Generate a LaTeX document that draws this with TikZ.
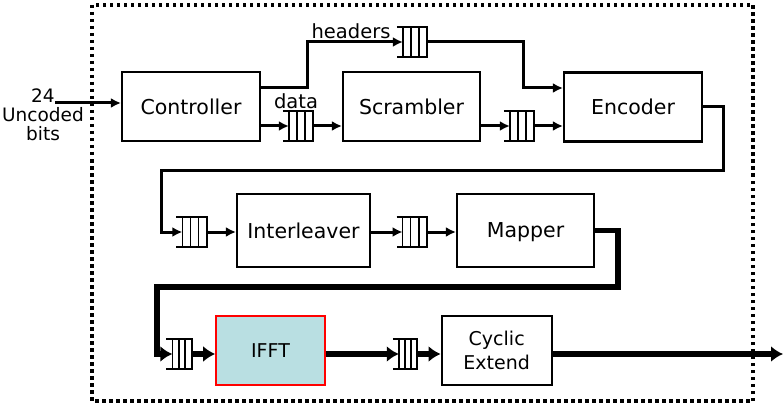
\documentclass[tikz,border=0pt]{standalone}
\usepackage{fontspec}
\setmainfont{DejaVu Sans}
\usepackage{xcolor}
\usepackage{tikz}
\usetikzlibrary{arrows.meta, calc}
\definecolor{ifftfill}{RGB}{185,223,226}

\begin{document}
\begin{tikzpicture}[x=1pt, y=-1pt,
	block/.style={draw, line width=2.2pt, inner sep=0pt, align=center, font=\fontsize{20.5}{24}\selectfont},
	fifo/.style={inner sep=0pt, minimum width=24pt, minimum height=30pt},
	link/.style={line width=3pt, -{Latex[length=10pt,width=10pt]}},
	widelink/.style={line width=5.5pt, -{Latex[length=12pt,width=16pt]}},
	lbl/.style={font=\fontsize{19.5}{22}\selectfont, inner sep=0pt}]
	\useasboundingbox (0,0) rectangle (783,406);
	% dotted frame round the transmitter
	\draw [line width=3.5pt, dash pattern=on 3.5pt off 3.5pt] (92,5) rectangle (753,401);

	\node [block, minimum width=138pt, minimum height=69pt] (ctrl) at (191,106.5) {Controller};
	\node [block, minimum width=137pt, minimum height=69pt] (scr) at (411.5,106.5) {Scrambler};
	\node [block, minimum width=138pt, minimum height=69pt] (enc) at (633,107) {Encoder};
	\node [block, minimum width=133pt, minimum height=73pt] (intl) at (303.5,230.5) {Interleaver};
	\node [block, minimum width=137pt, minimum height=73pt, text depth=0pt] (map) at (525.5,230.5) {Mapper};
	\node [block, draw=red, line width=1.6pt, fill=ifftfill, minimum width=109pt, minimum height=69pt,
		font=\fontsize{19}{24.5}\selectfont] (ifft) at (270.5,350.5) {IFFT};
	\node [block, minimum width=110pt, minimum height=69pt, font=\fontsize{19}{24.5}\selectfont] (cyc) at (496.7,350.5) {Cyclic\\Extend};

	\node [fifo] (qh) at (415,42) {};
	\node [fifo] (qd) at (301,126) {};
	\node [fifo] (qs) at (522,126) {};
	\node [fifo] (qi) at (194.5,232) {};
	\node [fifo] (qm) at (414.7,232) {};
	\node [fifo, minimum width=19pt] (qf) at (182,354) {};
	\node [fifo, minimum width=18pt] (qc) at (408,354) {};
	\foreach \q in {qh,qd,qs,qi,qm,qf,qc} {
		\draw [line width=1.6pt] ([xshift=-6pt]\q.north west) -- (\q.north east) -- (\q.south east) -- ([xshift=-6pt]\q.south west);
		\draw [line width=1.6pt] (\q.north west) -- (\q.south west)
			($(\q.north west)!0.333!(\q.north east)$) -- ($(\q.south west)!0.333!(\q.south east)$)
			($(\q.north west)!0.667!(\q.north east)$) -- ($(\q.south west)!0.667!(\q.south east)$);
	}

	\node [align=center, font=\fontsize{18.5}{19}\selectfont, inner sep=0pt] (src) at (43,115) {24\\Uncoded\\bits};
	\node [lbl] (hdr) at (351,31) {headers};
	\node [lbl] (dat) at (296,101) {data};

	\coordinate (in) at (55,103);
	\draw [link] (in) -- (in -| ctrl.west);
	\draw [link] ([yshift=18.5pt]ctrl.east) -- ++(46,0) |- (qh.west);
	\draw [link] (qd.west -| ctrl.east) -- (qd.west);
	\draw [link] (qd.east) -- (qd.east -| scr.west);
	\draw [link] (qs.west -| scr.east) -- (qs.west);
	\draw [link] (qs.east) -- (qs.east -| enc.west);
	\coordinate (hturn) at (523,88);
	\draw [link] (qh.east) -| (hturn) -- (hturn -| enc.west);
	\coordinate (e1) at (723,170);
	\coordinate (e2) at (161,170);
	\draw [link] (enc.east) -| (e1) -- (e2) |- (qi.west);
	\draw [link] (qi.east) -- (qi.east -| intl.west);
	\draw [link] (qm.west -| intl.east) -- (qm.west);
	\draw [link] (qm.east) -- (qm.east -| map.west);

	\coordinate (m1) at (618,287);
	\coordinate (m2) at (157,287);
	\draw [widelink] (map.east) -| (m1) -- (m2) |- (qf.west);
	\draw [widelink] (qf.east) -- (qf.east -| ifft.west);
	\draw [widelink] (qc.west -| ifft.east) -- (qc.west);
	\draw [widelink] (qc.east) -- (qc.east -| cyc.west);
	\coordinate (out) at (783,354);
	\draw [widelink] (out -| cyc.east) -- (out);
\end{tikzpicture}
\end{document}
